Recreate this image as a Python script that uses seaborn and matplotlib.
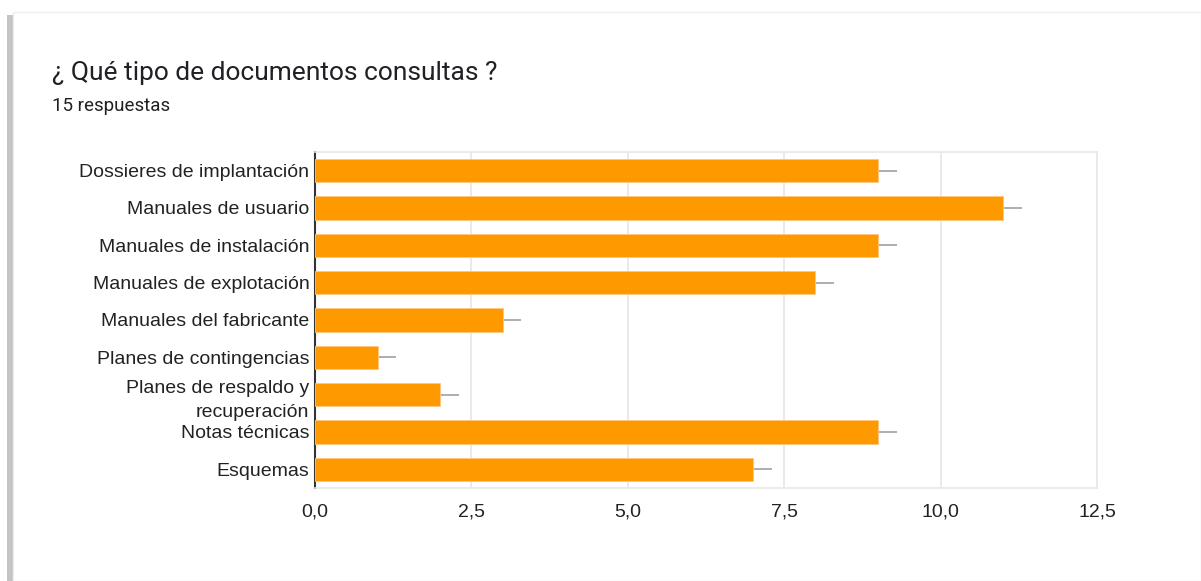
import pandas as pd
import seaborn as sns
import matplotlib.pyplot as plt
from matplotlib.patches import Rectangle
from matplotlib.ticker import FixedLocator

categorias = ['Dossieres de implantación', 'Manuales de usuario',
	'Manuales de instalación', 'Manuales de explotación',
	'Manuales del fabricante', 'Planes de contingencias',
	'Planes de respaldo y\nrecuperación', 'Notas técnicas', 'Esquemas']
respuestas = [9, 11, 9, 8, 3, 1, 2, 9, 7]
ticks = [0, 2.5, 5, 7.5, 10, 12.5]
tick_labels = ['0,0', '2,5', '5,0', '7,5', '10,0', '12,5']

sns.set_theme(style='white')
plt.rcParams['font.family'] = ['Liberation Sans', 'DejaVu Sans']

fig = plt.figure(figsize=(12.01, 5.81), dpi=100)
# card with a soft shadow on the left
fig.patches.append(Rectangle((0.006, 0.0), 0.008, 0.975, transform=fig.transFigure,
	facecolor='#c4c4c4', edgecolor='none', zorder=0))
fig.patches.append(Rectangle((0.011, 0.0), 0.989, 0.979, transform=fig.transFigure,
	facecolor='white', edgecolor='#eeeeee', linewidth=1, zorder=1))

ax = fig.add_axes([315 / 1201, 1 - 488 / 581, (1097 - 315) / 1201, (488 - 152) / 581])
ax.set_zorder(2)

df = pd.DataFrame({'Categoria': categorias, 'Respuestas': respuestas})
sns.barplot(data=df, y='Categoria', x='Respuestas', orient='h',
	color='#ff9900', saturation=1, width=0.63, ax=ax, zorder=3,
	edgecolor='#ffc680', linewidth=0.6)
# short grey whiskers at the end of each bar
ax.errorbar(respuestas, range(len(categorias)),
	xerr=[[0] * len(respuestas), [0.3] * len(respuestas)],
	fmt='none', ecolor='#a8a8a8', elinewidth=1.3, capsize=0, zorder=2)

ax.set_xlim(0, 12.5)
ax.set_ylim(len(categorias) - 0.5, -0.5)
ax.xaxis.set_major_locator(FixedLocator(ticks))
ax.set_xticklabels(tick_labels)
ax.grid(axis='x', color='#e6e6e6', linewidth=1.2, zorder=0)
ax.set_axisbelow(True)
ax.set_xlabel('')
ax.set_ylabel('')
ax.tick_params(axis='both', length=0, labelsize=14, labelcolor='#222222')
ax.tick_params(axis='x', pad=11)
ax.tick_params(axis='y', pad=4)
for lbl in ax.get_yticklabels():
	lbl.set_linespacing(1.55)

for side in ['top', 'right', 'bottom']:
	ax.spines[side].set_color('#e8e8e8')
	ax.spines[side].set_linewidth(1.2)
ax.spines['left'].set_color('#333333')
ax.spines['left'].set_linewidth(1.5)

fig.text(52 / 1201, 1 - 73 / 581, '¿ Qué tipo de documentos consultas ?',
	fontsize=19, family=['Roboto', 'DejaVu Sans'], color='#202124', va='center')
fig.text(52 / 1201, 1 - 106 / 581, '15 respuestas',
	fontsize=13.5, family=['Roboto', 'DejaVu Sans'], color='#202124', va='center')

fig.savefig('out.png', dpi=100, facecolor='white')
